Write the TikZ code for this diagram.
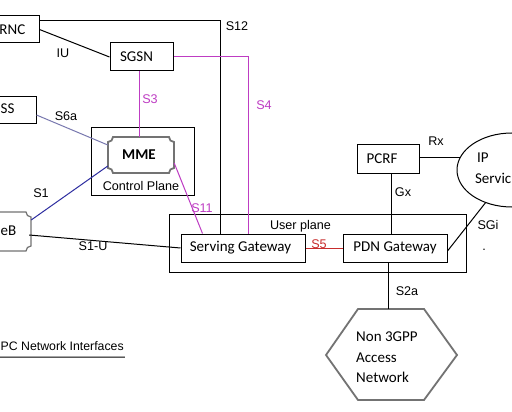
\documentclass[tikz,border=0pt]{standalone}
\usepackage{fontspec}
\setmainfont{Liberation Sans}
\newfontfamily\nmfont{Carlito}
\usetikzlibrary{calc,shapes.geometric}
\definecolor{mag}{RGB}{190,60,195}
\definecolor{sred}{RGB}{200,45,45}
\definecolor{sblue}{RGB}{45,45,160}
\definecolor{slate}{RGB}{120,120,175}
\definecolor{edgegray}{RGB}{115,115,115}
\begin{document}
\begin{tikzpicture}[x=1pt,y=-1pt,
  box/.style={draw, line width=1pt, inner sep=0pt},
  nm/.style={font=\nmfont\fontsize{15}{20.5}\selectfont, inner sep=0pt},
  lbl/.style={font=\fontsize{12.6}{15}\selectfont, inner sep=0pt},
  wire/.style={line width=1pt},
  notch/.style={draw=edgegray, line width=1.8pt},
  thinnotch/.style={draw=edgegray, line width=1.2pt},
]
\useasboundingbox (0,0) rectangle (512,412);
\fill[white] (0,0) rectangle (512,412);
\clip (0,0) rectangle (512,412);

% boxes
\node[box, minimum width=49pt, minimum height=27pt] (rnc) at (14.5,29.5) {};
\node[nm, anchor=east] (rnct) at (25.5,29.5) {RNC};
\node[box, nm, minimum width=63pt, minimum height=28pt] (sgsn) at (141.5,57) {SGSN\hspace*{10pt}};
\node[box, minimum width=46pt, minimum height=27pt] (hss) at (13,110.5) {};
\node[nm, anchor=west] (hsst) at (0.5,109) {SS};
\node[box, minimum width=103pt, minimum height=67pt] (cp) at (142.5,161.5) {};
\node[lbl] (cpt) at (141,186) {Control Plane};
\node[nm, font=\nmfont\bfseries\fontsize{15}{18}\selectfont, minimum width=66pt, minimum height=36pt] (mme) at (141,155) {MME\hspace*{4pt}};
\draw[notch] (113,137) -- (169,137) .. controls (169,139.8) and (171.2,142) .. (174,142)
  -- (174,168) .. controls (171.2,168) and (169,170.2) .. (169,173)
  -- (113,173) .. controls (113,170.2) and (110.8,168) .. (108,168)
  -- (108,142) .. controls (110.8,142) and (113,139.8) .. (113,137) -- cycle;
\node[minimum width=41pt, minimum height=39pt, inner sep=0pt] (enb) at (10.5,231.5) {};
\draw[thinnotch] (-10,212) -- (26,212) .. controls (26,214.8) and (28.2,217) .. (31,217)
  -- (31,246) .. controls (28.2,246) and (26,248.2) .. (26,251) -- (-10,251);
\node[nm, anchor=west] (enbt) at (0.5,231) {eB};

\node[box, minimum width=297pt, minimum height=58pt] (up) at (317.5,243) {};
\node[lbl] (upt) at (300.5,226) {User plane};
\node[box, nm, minimum width=124pt, minimum height=28pt] (sgw) at (243,248) {Serving Gateway\hspace*{5pt}};
\node[box, nm, minimum width=104pt, minimum height=28pt] (pdn) at (395,248) {PDN Gateway};
\node[box, nm, minimum width=62pt, minimum height=29pt] (pcrf) at (388,158.5) {PCRF\hspace*{12pt}};
\node[draw, ellipse, line width=1pt, fill=white, minimum width=110pt, minimum height=74pt, inner sep=0pt] (ip) at (512,170) {};
\node[nm, anchor=west] (ipt1) at (477,158) {IP};
\node[nm, anchor=east] (ipt2) at (511.5,178) {Servic};

\draw[notch] (358,309) -- (424,309) -- (457,355) -- (424,400) -- (358,400) -- (326,355) -- cycle;
\coordinate (hextop) at (388,309);
\node[nm, align=left, anchor=north west] (nong) at (356,332) {Non 3GPP\\Access\\Network};

\node[lbl, anchor=west, font=\fontsize{12.3}{15}\selectfont] (title) at (0.5,346) {PC Network Interfaces};
\draw[wire] (0,357) -- ($(title.south east)+(1,6.5)$);

% connectors
\draw[wire] (rnc.east) -- (sgsn.west);
\draw[wire] ($(rnc.north east)+(0,5)$) -| ($(sgw.north west)+(40,0)$);
\draw[wire,mag] ($(sgsn.south)+(-2.5,0)$) -- ($(mme.north)+(-2,0)$);
\draw[wire,mag] (sgsn.east) -| ($(sgw.north west)+(68,0)$);
\draw[wire,slate] ($(hss.east)+(0,4.5)$) -- ($(mme.west)+(0,-10)$);
\draw[wire,sblue] ($(enb.east)+(0,-11.5)$) -- ($(mme.west)+(0,11)$);
\draw[wire] ($(enb.east)+(-2,3.5)$) -- (sgw.west);
\draw[wire,mag] ($(mme.east)+(0,8)$) -- ($(sgw.north west)+(22,0)$);
\draw[wire,sred] (sgw.east) -- (pdn.west);
\coordinate (gxtop) at ($(pcrf.south)+(3,0)$);
\draw[wire] (gxtop) -- (gxtop |- pdn.north);
\draw[wire] (pcrf.east |- ip.166) -- (ip.166);
\draw[wire] ($(pdn.east)+(0,3)$) -- (ip.231);
\draw[wire] (pdn.south -| hextop) -- (hextop);

% labels
\node[lbl] (l12) at (237,26) {S12};
\node[lbl] (liu) at (63,53) {IU};
\node[lbl, text=mag] (l3) at (150,99) {S3};
\node[lbl] (l6a) at (66,116) {S6a};
\node[lbl, text=mag] (l4) at (264,105) {S4};
\node[lbl] (lrx) at (436,141) {Rx};
\node[lbl] (lgx) at (403,192) {Gx};
\node[lbl] (lsgi) at (488,225) {SGi};
\node[lbl] (ldot) at (484,250) {.};
\node[lbl, text=sred] (l5) at (319,244) {S5};
\node[lbl] (l1) at (41,193) {S1};
\node[lbl] (l1u) at (93,246) {S1-U};
\node[lbl, text=mag] (l11) at (202,208) {S11};
\node[lbl] (l2a) at (407,291) {S2a};
\end{tikzpicture}
\end{document}
